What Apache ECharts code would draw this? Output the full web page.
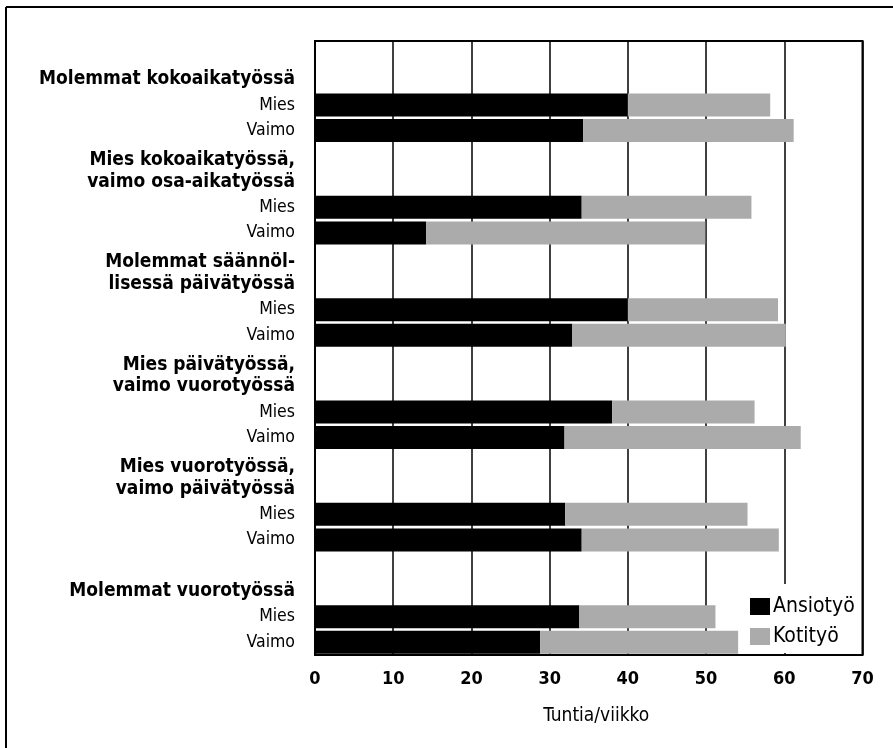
<!DOCTYPE html>
<html>
<head>
<meta charset="utf-8">
<script src="https://cdn.jsdelivr.net/npm/echarts@6/dist/echarts.min.js"></script>
<style>html,body{margin:0;padding:0;background:#fff;}#c{width:893px;height:748px;}</style>
</head>
<body>
<div id="c"></div>
<script>
const groupTitles = [
  ['Molemmat kokoaikatyössä'],
  ['Mies kokoaikatyössä,', 'vaimo osa-aikatyössä'],
  ['Molemmat säännöl-', 'lisessä päivätyössä'],
  ['Mies päivätyössä,', 'vaimo vuorotyössä'],
  ['Mies vuorotyössä,', 'vaimo päivätyössä'],
  ['Molemmat vuorotyössä']
];
const persons = ['Mies', 'Vaimo'];
// per group: Mies, Vaimo
const ansiotyo = [40.0, 34.3, 34.1, 14.2, 40.0, 32.9, 38.0, 31.9, 32.0, 34.1, 33.8, 28.8];
const kotityo  = [18.2, 26.9, 21.7, 35.7, 19.2, 27.3, 18.2, 30.2, 23.3, 25.2, 17.4, 25.3];
const seriesNames = ['Ansiotyö', 'Kotityö'];
const xTicks = [0, 10, 20, 30, 40, 50, 60, 70];
const xName = 'Tuntia/viikko';

const FONT = "'DejaVu Sans Condensed', 'Liberation Sans Narrow', 'DejaVu Sans', sans-serif";

// build category rows
const cats = [], labels = {}, dA = [], dK = [];
groupTitles.forEach((t, g) => {
  const k1 = 'h' + g + 'a', k2 = 'h' + g + 'b';
  cats.push(k1, k2);
  if (t.length === 1) { labels[k1] = ''; labels[k2] = '{h|' + t[0] + '}'; }
  else { labels[k1] = '{h1|' + t[0] + '}'; labels[k2] = '{h|' + t[1] + '}'; }
  dA.push('-', '-'); dK.push('-', '-');
  persons.forEach((p, i) => {
    const k = 'p' + g + '_' + i;
    cats.push(k);
    labels[k] = '{p|' + p + '}';
    dA.push(ansiotyo[g * 2 + i]);
    dK.push(kotityo[g * 2 + i]);
  });
});

const chart = echarts.init(document.getElementById('c'), null, {renderer: 'canvas'});
chart.setOption({
  animation: false,
  backgroundColor: '#fff',
  grid: {left: 315, right: 30.5, top: 41, bottom: 93, show: true, borderColor: '#000', borderWidth: 2, containLabel: false},
  legend: {
    data: seriesNames,
    orient: 'vertical',
    left: 746, top: 584,
    itemWidth: 20, itemHeight: 17, itemGap: 9,
    backgroundColor: '#fff',
    padding: [12, 4, 6, 4],
    icon: 'rect',
    textStyle: {fontFamily: FONT, fontSize: 21, color: '#000', padding: [0, 0, 0, -2]}
  },
  xAxis: {
    type: 'value', min: xTicks[0], max: xTicks[xTicks.length - 1], interval: 10,
    axisLine: {show: false}, axisTick: {show: false},
    splitLine: {show: true, lineStyle: {color: '#000', width: 1.5}},
    axisLabel: {fontFamily: FONT, fontSize: 18, fontWeight: 'bold', color: '#000', margin: 15},
    name: xName, nameLocation: 'middle', nameGap: 52,
    nameTextStyle: {fontFamily: FONT, fontSize: 19, color: '#000', padding: [0, 0, 0, 15]}
  },
  yAxis: {
    type: 'category', inverse: true, data: cats,
    axisLine: {show: false}, axisTick: {show: false}, splitLine: {show: false},
    axisLabel: {
      interval: 0, margin: 20, color: '#000',
      formatter: v => labels[v],
      rich: {
        h: {fontFamily: FONT, fontSize: 19, fontWeight: 'bold', color: '#000'},
        h1: {fontFamily: FONT, fontSize: 19, fontWeight: 'bold', color: '#000', padding: [8, 0, 0, 0]},
        p: {fontFamily: FONT, fontSize: 17.5, color: '#000'}
      }
    }
  },
  series: [
    {name: seriesNames[0], type: 'bar', stack: 'a', data: dA, barWidth: 23, itemStyle: {color: '#000'}},
    {name: seriesNames[1], type: 'bar', stack: 'a', data: dK, barWidth: 23, itemStyle: {color: '#ababab'}}
  ],
  graphic: [
    {type: 'line', shape: {x1: 6, y1: 7, x2: 6, y2: 748}, style: {stroke: '#000', lineWidth: 2}},
    {type: 'line', shape: {x1: 6, y1: 7, x2: 893, y2: 7}, style: {stroke: '#000', lineWidth: 2}}
  ]
});
</script>
</body>
</html>
